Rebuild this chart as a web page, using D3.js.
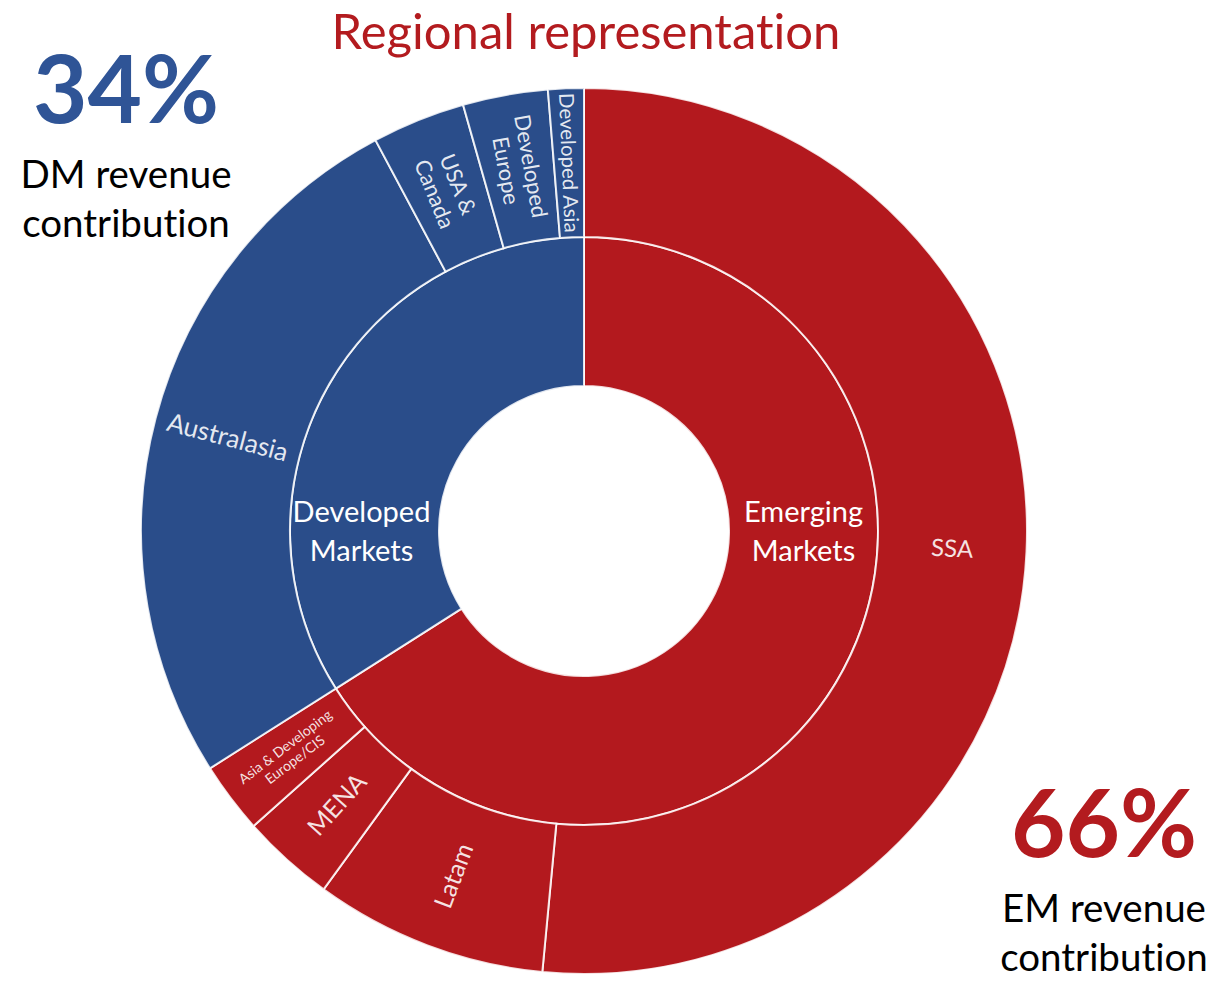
<!DOCTYPE html>
<html>
<head>
<meta charset="utf-8">
<script src="https://cdn.jsdelivr.net/npm/d3@7"></script>
<style>
	body { margin: 0; background: #ffffff; }
	svg { display: block; font-family: Lato, "Open Sans", sans-serif; font-variant-ligatures: none; }
</style>
</head>
<body>
<svg id="chart" width="1216" height="981"></svg>
<script>
// market groups (inner ring), in clockwise order from 12 o'clock
const marketNames = ["Emerging Markets", "Developed Markets"];
const marketLabels = [["Emerging", "Markets"], ["Developed", "Markets"]];

// regions (outer ring), share of revenue in %
const regionNames = ["SSA", "Latam", "MENA", "Asia & Developing Europe/CIS",
	"Australasia", "USA & Canada", "Developed Europe", "Developed Asia"];
const regionMarket = ["Emerging Markets", "Emerging Markets", "Emerging Markets", "Emerging Markets",
	"Developed Markets", "Developed Markets", "Developed Markets", "Developed Markets"];
const regionShare = [51.5, 8.5, 3.4, 2.6, 26.2, 3.4, 3.1, 1.3];
const regionLabels = [["SSA"], ["Latam"], ["MENA"], ["Asia & Developing", "Europe/CIS"],
	["Australasia"], ["USA &", "Canada"], ["Developed", "Europe"], ["Developed Asia"]];

const width = 1216, height = 981;
const cx = 584, cy = 531;
const colors = { "Emerging Markets": "#b3191e", "Developed Markets": "#2a4d8a" };

const svg = d3.select("#chart");

/* build hierarchy from the arrays */
const tree = {
	name: "root",
	children: marketNames.map((m, i) => ({
		name: m,
		label: marketLabels[i],
		children: regionNames
			.map((r, j) => ({ name: r, market: regionMarket[j], value: regionShare[j], label: regionLabels[j] }))
			.filter(r => r.market === m)
	}))
};

const root = d3.hierarchy(tree).sum(d => d.value || 0);
d3.partition().size([2 * Math.PI, 3])(root);

// depth -> radius
const radius = d3.scaleLinear().domain([1, 2, 3]).range([145, 294, 443]);

const arc = d3.arc()
	.startAngle(d => d.x0)
	.endAngle(d => d.x1)
	.innerRadius(d => radius(d.y0))
	.outerRadius(d => radius(d.y1));

const g = svg.append("g").attr("transform", `translate(${cx},${cy})`);

const nodes = root.descendants().filter(d => d.depth > 0);

g.selectAll("path")
	.data(nodes)
	.join("path")
	.attr("d", arc)
	.attr("fill", d => colors[d.depth === 1 ? d.data.name : d.data.market])
	.attr("stroke", "rgba(255,255,255,0.85)")
	.attr("stroke-width", 2);

/* outer ring labels, rotated along the radius */
const outerSize = { "SSA": 24, "Latam": 25, "MENA": 25, "Asia & Developing Europe/CIS": 14,
	"Australasia": 26, "USA & Canada": 22, "Developed Europe": 22, "Developed Asia": 20.5 };

g.selectAll("text.region")
	.data(root.leaves())
	.join("text")
	.attr("class", "region")
	.attr("transform", d => {
		const [x, y] = arc.centroid(d);
		const a = (d.x0 + d.x1) / 2 * 180 / Math.PI;
		const rot = a < 180 ? a - 90 : a + 90;
		return `translate(${x},${y}) rotate(${rot})`;
	})
	.attr("text-anchor", "middle")
	.attr("fill", "#ffffff")
	.attr("fill-opacity", 0.88)
	.attr("font-size", d => outerSize[d.data.name] + "px")
	.each(function(d) {
		const lines = d.data.label;
		const size = outerSize[d.data.name];
		const lh = size * 1.15;
		d3.select(this).selectAll("tspan")
			.data(lines)
			.join("tspan")
			.attr("x", 0)
			.attr("y", (l, i) => (i - (lines.length - 1) / 2) * lh + size * 0.35)
			.text(l => l);
	});

/* inner ring labels, horizontal at mid radius */
const midR = radius(1.5);
g.selectAll("text.market")
	.data(root.children)
	.join("text")
	.attr("class", "market")
	.attr("text-anchor", "middle")
	.attr("fill", "#ffffff")
	.attr("font-size", "29px")
	.each(function(d) {
		const side = d.data.name === "Emerging Markets" ? 1 : -1;
		d3.select(this).selectAll("tspan")
			.data(d.data.label)
			.join("tspan")
			.attr("x", side * midR - (side < 0 ? 3 : 0))
			.attr("y", (l, i) => -9 + i * 39)
			.text(l => l);
	});

/* title */
svg.append("text")
	.attr("x", 586)
	.attr("y", 49)
	.attr("text-anchor", "middle")
	.attr("fill", "#b31b1f")
	.attr("font-size", "49px")
	.text("Regional representation");

/* share call-outs */
function shareBlock(x, y, pct, color, lines) {
	svg.append("text")
		.attr("x", x)
		.attr("y", y)
		.attr("text-anchor", "middle")
		.attr("fill", color)
		.attr("font-size", "94px")
		.attr("font-weight", "bold")
		.text(pct);
	lines.forEach((l, i) => {
		svg.append("text")
			.attr("x", x)
			.attr("y", y + 65 + i * 49)
			.attr("text-anchor", "middle")
			.attr("fill", "#000000")
			.attr("font-size", "38.5px")
			.text(l);
	});
}

const dmShare = d3.sum(regionShare.filter((v, i) => regionMarket[i] === "Developed Markets"));
const emShare = d3.sum(regionShare.filter((v, i) => regionMarket[i] === "Emerging Markets"));

shareBlock(126, 123, Math.round(dmShare) + "%", "#2f5496", ["DM revenue", "contribution"]);
shareBlock(1104, 857, Math.round(emShare) + "%", "#b31b1f", ["EM revenue", "contribution"]);
</script>
</body>
</html>
